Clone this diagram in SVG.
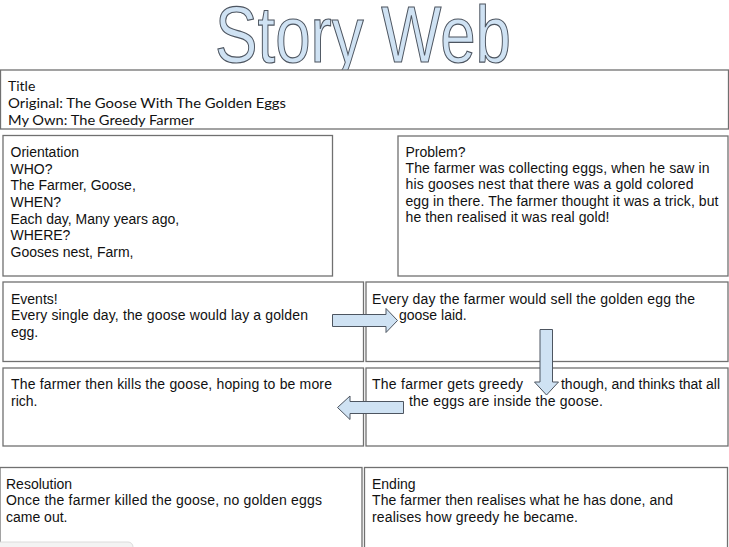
<svg xmlns="http://www.w3.org/2000/svg" width="729" height="547" viewBox="0 0 729 547">
<style>
.box{fill:#fff;stroke:#707070;stroke-width:1.3}
.t{font-family:"Liberation Sans",Arial,sans-serif;font-size:14px;fill:#111}
.tt{font-family:"Lato","Noto Sans",sans-serif;font-size:14px;fill:#111}
.arrow{fill:#cfe2f3;stroke:#4d5560;stroke-width:1}
.head{font-family:"Liberation Sans",Arial,sans-serif;font-size:80px;fill:#cfe2f3;stroke:#4d5560;stroke-width:1.2}
</style>
<rect width="729" height="547" fill="#fff"/>
<g id="heading">
<text class="head" x="215" y="62" textLength="296" lengthAdjust="spacingAndGlyphs">Story Web</text>
</g>
<g id="title">
<rect class="box" x="0.5" y="70" width="728" height="59"/>
<text class="tt" x="8" y="91">Title</text>
<text class="tt" x="8" y="108" textLength="278" lengthAdjust="spacingAndGlyphs">Original: The Goose With The Golden Eggs</text>
<text class="tt" x="8" y="125" textLength="186" lengthAdjust="spacingAndGlyphs">My Own: The Greedy Farmer</text>
</g>
<g id="orientation">
<rect class="box" x="3" y="135.5" width="329.5" height="140.5"/>
<text class="t" x="10.5" y="157">Orientation</text>
<text class="t" x="10.5" y="173.7">WHO?</text>
<text class="t" x="10.5" y="190.3">The Farmer, Goose,</text>
<text class="t" x="10.5" y="207">WHEN?</text>
<text class="t" x="10.5" y="223.7">Each day, Many years ago,</text>
<text class="t" x="10.5" y="240.3">WHERE?</text>
<text class="t" x="10.5" y="257">Gooses nest, Farm,</text>
</g>
<g id="problem">
<rect class="box" x="398" y="136" width="330" height="140"/>
<text class="t" x="405.5" y="156.7">Problem?</text>
<text class="t" x="405.5" y="173" textLength="304" lengthAdjust="spacing">The farmer was collecting eggs, when he saw in</text>
<text class="t" x="405.5" y="189.4" textLength="288" lengthAdjust="spacing">his gooses nest that there was a gold colored</text>
<text class="t" x="405.5" y="205.8" textLength="313" lengthAdjust="spacing">egg in there. The farmer thought it was a trick, but</text>
<text class="t" x="405.5" y="222.2" textLength="204" lengthAdjust="spacing">he then realised it was real gold!</text>
</g>
<g id="events">
<rect class="box" x="3" y="282" width="360.5" height="79.5"/>
<text class="t" x="11" y="304">Events!</text>
<text class="t" x="11" y="320.3" textLength="297" lengthAdjust="spacing">Every single day, the goose would lay a golden</text>
<text class="t" x="11" y="336.5">egg.</text>
</g>
<g id="sell">
<rect class="box" x="366" y="282" width="362" height="79.5"/>
<text class="t" x="372" y="304" textLength="323" lengthAdjust="spacing">Every day the farmer would sell the golden egg the</text>
<text class="t" x="399" y="320.3">goose laid.</text>
</g>
<g id="kills">
<rect class="box" x="3" y="368" width="360.5" height="78"/>
<text class="t" x="11" y="389" textLength="321" lengthAdjust="spacing">The farmer then kills the goose, hoping to be more</text>
<text class="t" x="11" y="405.5">rich.</text>
</g>
<g id="greedy">
<rect class="box" x="366" y="368" width="362" height="78"/>
<text class="t" x="372" y="389" textLength="151" lengthAdjust="spacing">The farmer gets greedy</text>
<text class="t" x="561" y="389" textLength="159" lengthAdjust="spacing">though, and thinks that all</text>
<text class="t" x="409" y="405.5" textLength="194" lengthAdjust="spacing">the eggs are inside the goose.</text>
</g>
<g id="resolution">
<rect class="box" x="0" y="467.5" width="362" height="100"/>
<text class="t" x="6" y="489">Resolution</text>
<text class="t" x="6" y="505.3" textLength="316" lengthAdjust="spacing">Once the farmer killed the goose, no golden eggs</text>
<text class="t" x="6" y="521.5">came out.</text>
</g>
<g id="ending">
<rect class="box" x="364.5" y="467.5" width="363" height="100"/>
<text class="t" x="372" y="489">Ending</text>
<text class="t" x="372" y="505.3" textLength="301" lengthAdjust="spacing">The farmer then realises what he has done, and</text>
<text class="t" x="372" y="521.5" textLength="206" lengthAdjust="spacing">realises how greedy he became.</text>
</g>
<g id="connectors">
<polygon class="arrow" points="332.5,314.5 386,314.5 386,308.5 397.5,320.5 386,332.5 386,326.5 332.5,326.5"/>
<polygon class="arrow" points="540,329.5 552.5,329.5 552.5,382 558.5,382 546.5,395 534.5,382 540,382"/>
<polygon class="arrow" points="403.5,401.5 350,401.5 350,396 337.5,407.5 350,419.5 350,413.5 403.5,413.5"/>
</g>
<rect x="-4" y="542" width="137" height="12" rx="5" fill="#f3f3f3" stroke="#dcdcdc" stroke-width="1"/>
</svg>
